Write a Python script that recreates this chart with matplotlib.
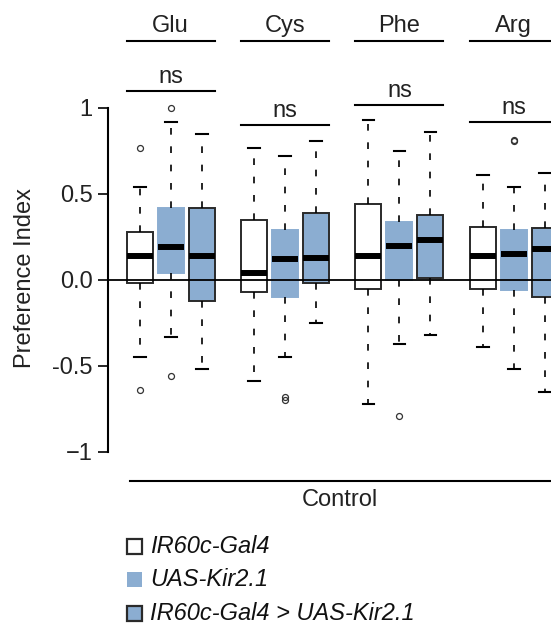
import numpy as np
import matplotlib.pyplot as plt
from matplotlib.patches import Rectangle

plt.rcParams['font.family'] = ['Liberation Sans', 'DejaVu Sans']

# odorants (groups) and genotypes
groups = ['Glu', 'Cys', 'Phe', 'Arg']
genotypes = ['IR60c-Gal4', 'UAS-Kir2.1', 'IR60c-Gal4 > UAS-Kir2.1']
sig = ['ns', 'ns', 'ns', 'ns']

# box stats per group, per genotype
q1 = [[-0.02, 0.04, -0.12], [-0.07, -0.10, -0.02], [-0.05, 0.00, 0.01], [-0.05, -0.06, -0.10]]
med = [[0.14, 0.19, 0.14], [0.04, 0.12, 0.13], [0.14, 0.20, 0.23], [0.14, 0.15, 0.18]]
q3 = [[0.28, 0.42, 0.42], [0.35, 0.29, 0.39], [0.44, 0.34, 0.38], [0.31, 0.29, 0.30]]
wlo = [[-0.45, -0.33, -0.52], [-0.59, -0.45, -0.25], [-0.72, -0.37, -0.32], [-0.39, -0.52, -0.65]]
whi = [[0.54, 0.92, 0.85], [0.77, 0.72, 0.81], [0.93, 0.75, 0.86], [0.61, 0.54, 0.62]]
fliers = [[[0.77, -0.64], [1.00, -0.56], []],
          [[], [-0.68, -0.70], []],
          [[], [-0.79], []],
          [[], [0.81, 0.815], []]]
ns_y = [1.10, 0.90, 1.02, 0.92]

yticks = [-1, -0.5, 0, 0.5, 1]
ytick_labels = ['\u22121', '-0.5', '0.0', '0.5', '1']

blue = '#8badd1'
dark = '#2a2a2a'
face = ['white', blue, blue]
edge = [dark, blue, dark]
fs = 17

group_step = 3.69
box_w = 0.84

fig = plt.figure(figsize=(5.51, 6.23), dpi=100)
ax = fig.add_axes([108 / 551, (623 - 486.4) / 623, 443 / 551, 430 / 623])

for g in range(len(groups)):
    for i in range(3):
        st = dict(med=med[g][i], q1=q1[g][i], q3=q3[g][i],
                  whislo=wlo[g][i], whishi=whi[g][i], fliers=fliers[g][i])
        pos = g * group_step + i
        ax.bxp([st], positions=[pos], widths=box_w, patch_artist=True,
               capwidths=0.38, manage_ticks=False,
               boxprops=dict(facecolor=face[i], edgecolor=edge[i], linewidth=1.4),
               medianprops=dict(color='black', linewidth=4.3, solid_capstyle='butt'),
               whiskerprops=dict(color='black', linewidth=1.2, linestyle=(0, (4, 7))),
               capprops=dict(color='black', linewidth=1.5),
               flierprops=dict(marker='o', markersize=4.3, markerfacecolor='none',
                               markeredgecolor='#333333', markeredgewidth=0.9))

    left = g * group_step - box_w / 2
    right = g * group_step + 2 + box_w / 2
    mid = g * group_step + 1
    # header
    ax.plot([left, right], [1.39, 1.39], color='black', lw=1.5, clip_on=False)
    ax.text(mid, 1.44, groups[g], ha='center', va='baseline', fontsize=fs,
            color='#222222', clip_on=False)
    # significance
    ax.plot([left, right], [ns_y[g], ns_y[g]], color='black', lw=1.5, clip_on=False)
    ax.text(mid, ns_y[g] + 0.045, sig[g], ha='center', va='baseline', fontsize=fs,
            color='#222222', clip_on=False)

ax.axhline(0, color='black', lw=1.3, zorder=5)

# bottom bracket
ax.plot([-0.31, 14], [-1.169, -1.169], color='black', lw=1.5, clip_on=False)
ax.text(6.45, -1.314, 'Control', ha='center', va='baseline', fontsize=fs,
        color='#222222', clip_on=False)

ax.set_xlim(-1.02, 13.27)
ax.set_ylim(-1.2, 1.3)
for s in ['top', 'right', 'bottom']:
    ax.spines[s].set_visible(False)
ax.spines['left'].set_bounds(-1, 1)
ax.spines['left'].set_linewidth(1.5)
ax.set_xticks([])
ax.set_yticks(yticks)
ax.set_yticklabels(ytick_labels, fontsize=fs, color='#222222')
ax.tick_params(axis='y', length=7, width=1.2, pad=4)

fig.text(25 / 551, 1 - 278 / 623, 'Preference Index', rotation=90, ha='center',
         va='center', fontsize=fs, color='#222222')

# legend
leg_y = [546.7, 579.3, 613.5]
for i in range(3):
    lw = 0 if i == 1 else 1.6
    fig.patches.append(Rectangle((127 / 551, 1 - (leg_y[i] + 7.5) / 623), 15 / 551, 15 / 623,
                                 transform=fig.transFigure, facecolor=face[i],
                                 edgecolor=dark, linewidth=lw))
    fig.text(150 / 551, 1 - leg_y[i] / 623, genotypes[i], ha='left', va='center',
             fontsize=fs, style='italic', color='#111111')

fig.savefig('out.png', dpi=100)
